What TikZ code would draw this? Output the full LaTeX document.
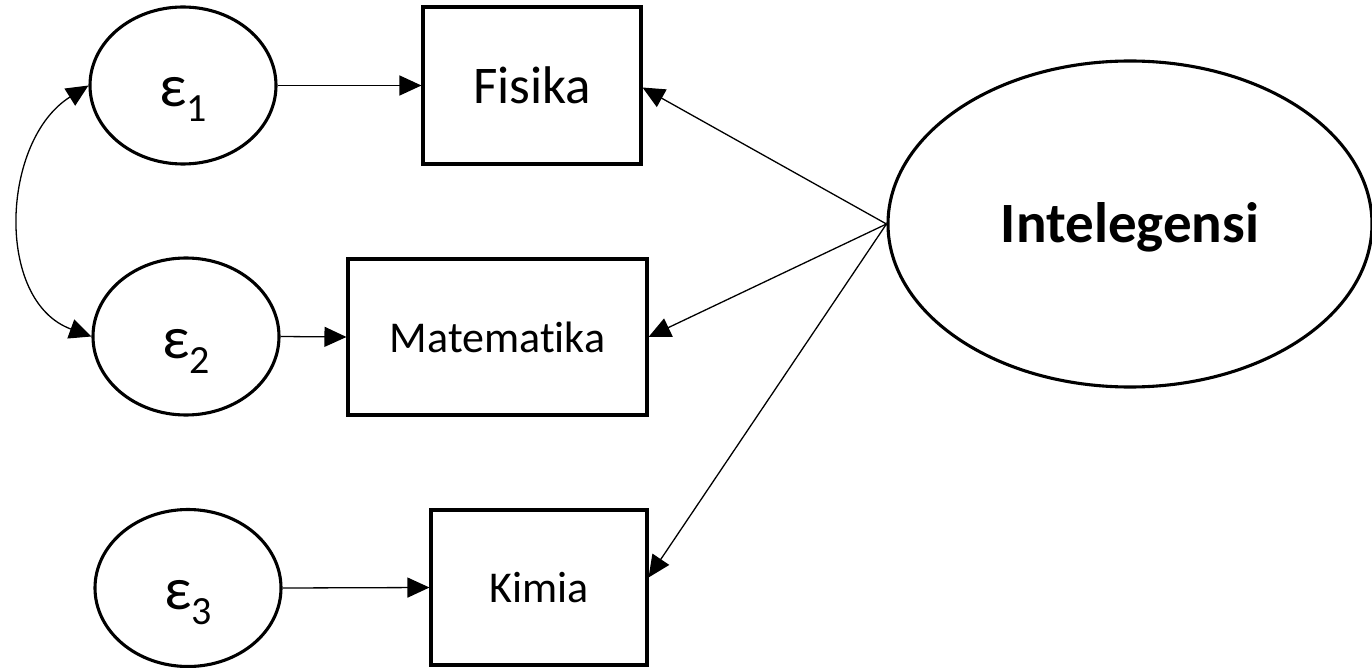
\documentclass[tikz,border=0pt]{standalone}
\usepackage{fontspec}
\setmainfont{Carlito}[Ligatures=NoCommon]
\usetikzlibrary{arrows.meta,shapes.geometric}

\tikzset{
  errnode/.style={draw, ellipse, line width=3.1pt, minimum width=186pt,
    minimum height=157pt, inner sep=0pt, text height=43pt, text depth=0pt,
    font=\fontsize{60}{60}\selectfont},
  latent/.style={draw, ellipse, line width=3.1pt, minimum width=484pt,
    minimum height=326pt, inner sep=0pt, text height=38pt, text depth=0pt,
    font=\fontsize{57}{57}\selectfont\bfseries},
  obsbox/.style={draw, rectangle, line width=3.1pt, inner sep=0pt,
    font=\fontsize{44}{44}\selectfont},
  link/.style={line width=1.3pt, -{Triangle[length=22pt,width=20pt]}},
  covlink/.style={line width=1.3pt,
    {Triangle[length=22pt,width=20pt]}-{Triangle[length=22pt,width=20pt]}}
}
\newcommand{\errlabel}[1]{ε\raisebox{-15pt}{\fontsize{40}{40}\selectfont #1}}

\begin{document}
\begin{tikzpicture}[x=1pt,y=1pt]
  \useasboundingbox[fill=white] (0,0) rectangle (1372,-668);

  % error terms
  \node[errnode] (e1) at (183,-85.5) {\errlabel{1}};
  \node[errnode] (e2) at (186,-336.5) {\errlabel{2}};
  \node[errnode] (e3) at (188,-588) {\errlabel{3}};

  % observed indicators
  \node[obsbox, minimum width=218pt, minimum height=157pt,
        font=\fontsize{53}{53}\selectfont] (fis) at (532,-85.5) {Fisika};
  \node[obsbox, minimum width=299pt, minimum height=156pt] (mat) at (497.5,-337) {Matematika};
  \node[obsbox, minimum width=216pt, minimum height=155pt] (kim) at (539,-587.5) {Kimia};

  % latent factor
  \node[latent] (int) at (1130,-224) {Intelegensi};

  % error paths
  \draw[link] (e1.east) -- (fis.west);
  \draw[link] (e2.east) -- (mat.west);
  \draw[link] (e3.east) -- (kim.west);

  % loadings
  \draw[link] (int.west) -- ([yshift=-2pt]fis.east);
  \draw[link] (int.west) -- (mat.east);
  \draw[link] (int.west) -- ([yshift=10pt]kim.east);

  % error covariance
  \draw[covlink] (e1.west) to[out=212, in=160, looseness=1.05] (e2.west);
\end{tikzpicture}
\end{document}
